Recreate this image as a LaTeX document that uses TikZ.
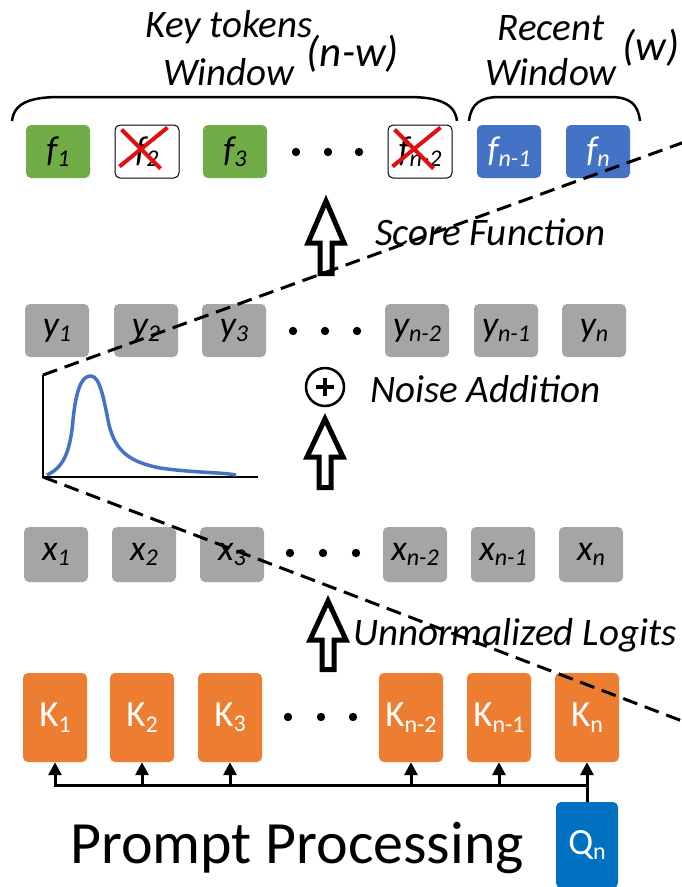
\documentclass[tikz,border=0pt]{standalone}
\usepackage{fontspec}
\setmainfont{Carlito}
\usetikzlibrary{arrows.meta}
\definecolor{cgreen}{HTML}{70AD47}
\definecolor{cblue}{HTML}{4472C4}
\definecolor{cgrey}{HTML}{A5A5A5}
\definecolor{corange}{HTML}{ED7D31}
\definecolor{cqblue}{HTML}{0070C0}
\definecolor{cred}{HTML}{E01010}
\newcommand{\ssub}[1]{\raisebox{-0.30ex}{\fontsize{24}{24}\selectfont #1}}
\newcommand{\harrow}[4]{% x, tip, headbase, bottom
  \draw[hollowarrow] (#1,#2+6) -- (#1+18,#3) -- (#1+6,#3) -- (#1+6,#4-2.5) -- (#1-6,#4-2.5) -- (#1-6,#3) -- (#1-18,#3) -- cycle;}
\tikzset{
  tok/.style={rounded corners=5pt, minimum width=64pt, minimum height=53pt, inner sep=0pt,
    font=\fontsize{36}{36}\selectfont\itshape},
  ftok/.style={tok, fill=cgreen, text=black},
  btok/.style={tok, fill=cblue, text=white},
  xtok/.style={tok, fill=white, draw=black, line width=1pt, text=black},
  gtok/.style={tok, fill=cgrey, text=black},
  ktok/.style={tok, minimum height=89pt, fill=corange, text=white, font=\fontsize{37}{37}\selectfont},
  qtok/.style={ktok, fill=cqblue, minimum width=62pt, minimum height=86pt},
  lbl/.style={font=\fontsize{39}{39}\selectfont\itshape, inner sep=0pt},
  plbl/.style={font=\fontsize{43}{43}\selectfont\itshape, inner sep=0pt},
  cross/.style={cred, line width=4pt},
  hollowarrow/.style={draw=black, fill=white, line width=5pt, line join=miter},
  dashline/.style={line width=3pt, dash pattern=on 15pt off 8pt},
  brace/.style={line width=2.5pt},
  bus/.style={line width=3pt},
  busarrow/.style={line width=3pt, -{Triangle[length=13pt, width=13pt]}},
  dot/.style={fill=black},
}
\begin{document}
\begin{tikzpicture}[x=1pt, y=-1pt]
\useasboundingbox (0,0) rectangle (681,887);
\fill[white] (0,0) rectangle (681,887);

% titles
\node[lbl] (kt) at (229,27) {Key tokens};
\node[lbl] (kw) at (229,72) {Window};
\node[plbl] (nw) at (353,54) {(n-w)};
\node[lbl] (rc) at (551,28) {Recent};
\node[lbl] (rw) at (551,72) {Window};
\node[plbl] (ww) at (651,48) {(w)};

% braces
\draw[brace] (12,121) .. controls (14,104) and (28,97) .. (60,97) -- (408,97) .. controls (440,97) and (455,104) .. (457,121);
\draw[brace] (469,121) .. controls (471,104) and (480,97) .. (500,97) -- (610,97) .. controls (630,97) and (638,104) .. (640,121);

% f row
\node[ftok] (f1) at (58,151.5) {f\ssub{1}};
\node[xtok] (f2) at (147,151.5) {f\ssub{2}};
\node[ftok] (f3) at (235,151.5) {f\ssub{3}};
\node[xtok] (fn2) at (420,151.5) {f\ssub{n-2}};
\node[btok] (fn1) at (509,151.5) {f\ssub{n-1}};
\node[btok] (fn) at (598,151.5) {f\ssub{n}};
\foreach \n in {f2,fn2}{
  \draw[cross] ([xshift=7pt,yshift=-5pt]\n.north west) -- ([xshift=-19pt,yshift=10pt]\n.south east);
  \draw[cross] ([xshift=-12pt,yshift=-3pt]\n.north east) -- ([xshift=5pt,yshift=12pt]\n.south west);
}
\foreach \x in {296,328,359}{\fill[dot] (\x,152) circle[radius=4.2pt];}

% score arrow
\harrow{326}{195}{243}{276}
\node[lbl, anchor=west] (sf) at (375,232) {Score Function};

% y row
\node[gtok] (y1) at (57,330.5) {y\ssub{1}};
\node[gtok] (y2) at (146,330.5) {y\ssub{2}};
\node[gtok] (y3) at (234,330.5) {y\ssub{3}};
\node[gtok] (yn2) at (417,330.5) {y\ssub{n-2}};
\node[gtok] (yn1) at (506,330.5) {y\ssub{n-1}};
\node[gtok] (yn) at (594,330.5) {y\ssub{n}};
\foreach \x in {293,325,357}{\fill[dot] (\x,331) circle[radius=4.2pt];}

% noise addition
\coordinate (plus) at (325,387);
\draw[line width=2.5pt, fill=white] (plus) circle[radius=19pt];
\draw[line width=4.5pt] ([xshift=-9pt]plus) -- ([xshift=9pt]plus);
\draw[line width=4.5pt] ([yshift=-9pt]plus) -- ([yshift=9pt]plus);
\node[lbl, anchor=west] (na) at (370,389) {Noise Addition};
\harrow{325}{413}{457}{490}

% graph
\draw[line width=2.8pt] (43,375) -- (43,477) -- (258,477);
\draw[cblue, line width=3.5pt] (47,475) .. controls (62,468) and (70,455) .. (73,420)
  .. controls (77,380) and (85,376) .. (91,376)
  .. controls (100,376) and (104,400) .. (109,425)
  .. controls (116,452) and (130,462) .. (160,468)
  .. controls (195,473) and (220,472) .. (236,475);

% x row
\node[gtok, minimum height=55pt] (x1) at (56,554.5) {x\ssub{1}};
\node[gtok, minimum height=55pt] (x2) at (144,554.5) {x\ssub{2}};
\node[gtok, minimum height=55pt] (x3) at (232,554.5) {x\ssub{3}};
\node[gtok, minimum height=55pt] (xn2) at (415,554.5) {x\ssub{n-2}};
\node[gtok, minimum height=55pt] (xn1) at (503,554.5) {x\ssub{n-1}};
\node[gtok, minimum height=55pt] (xn) at (591,554.5) {x\ssub{n}};
\foreach \x in {290,323,356}{\fill[dot] (\x,553) circle[radius=4.2pt];}

% logits arrow
\harrow{328}{595}{640}{672}
\node[lbl, anchor=west] (ul) at (353,635) {Unnormalized Logits};

% K row
\node[ktok] (k1) at (55,717.5) {K\ssub{1}};
\node[ktok] (k2) at (142,717.5) {K\ssub{2}};
\node[ktok] (k3) at (230,717.5) {K\ssub{3}};
\node[ktok] (kn2) at (411,717.5) {K\ssub{n-2}};
\node[ktok] (kn1) at (499,717.5) {K\ssub{n-1}};
\node[ktok] (kn) at (587,717.5) {K\ssub{n}};
\foreach \x in {288,321,353}{\fill[dot] (\x,717) circle[radius=4.2pt];}

% query and bus
\node[qtok] (q) at (587,845) {Q\ssub{n}};
\coordinate (busR) at (587,785);
\coordinate (busL) at (54,785);
\draw[bus] (q.north) -- (busR) -- (busL);
\foreach \k in {k1,k2,k3,kn2,kn1,kn}{
  \draw[busarrow] (\k.south |- busL) -- (\k.south);
}

\node[font=\fontsize{60}{60}\selectfont, inner sep=0pt] (pp) at (297,848) {Prompt Processing};

% dashed zoom lines (on top)
\coordinate (gtop) at (43,375);
\coordinate (gbot) at (43,477);
\coordinate (dtr) at (690,140);
\coordinate (dbr) at (690,724);
\draw[dashline] (gtop) -- (dtr);
\draw[dashline] (gbot) -- (dbr);
\end{tikzpicture}
\end{document}
